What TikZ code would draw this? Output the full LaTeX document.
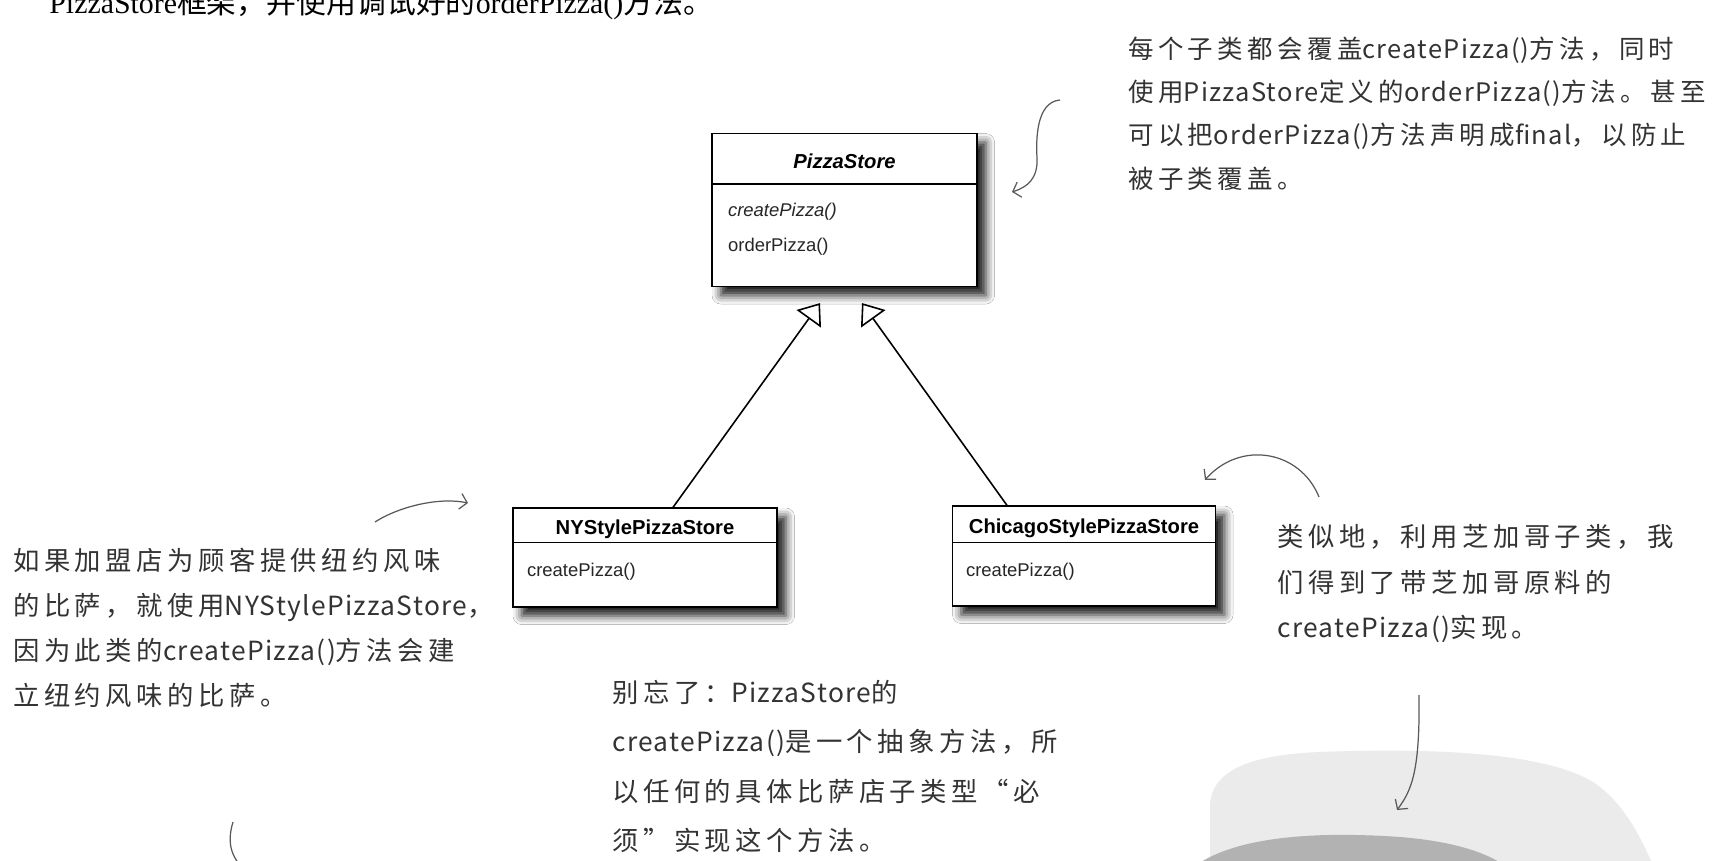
\documentclass[tikz,border=0pt]{standalone}
\usepackage{fontspec}
\setmainfont{Liberation Sans}
\newfontfamily\serifa{Liberation Serif}
\newfontfamily\cjk{Noto Sans CJK SC}
\newfontfamily\mao[LetterSpace=17]{Noto Sans CJK SC}
\newfontfamily\maolat[LetterSpace=5]{Noto Sans CJK SC}
\newcommand{\la}[1]{{\maolat #1}}
\usepackage{tikz}
\usetikzlibrary{positioning,arrows.meta,shadows.blur}

\begin{document}
\begin{tikzpicture}[
  x=0.02cm, y=-0.02cm,
  font=\fontsize{10.5}{12.6}\selectfont,
  classe/.style={draw, line width=0.7pt, fill=white, inner sep=0pt,
                 blur shadow={shadow xshift=5pt, shadow yshift=-5pt,
                              shadow blur radius=5pt, shadow opacity=90}},
  nome/.style={font=\fontsize{11.5}{13.8}\selectfont\bfseries, inner sep=1pt},
  metodo/.style={anchor=west, inner sep=1pt, text=black!85},
  nota/.style={align=left, inner sep=0pt, anchor=north west, text=black!80},
  heranca/.style={-{Triangle[open, length=11pt, width=17pt]}, line width=0.9pt},
  rabisco/.style={-{Straight Barb[length=4pt, width=9pt]}, line width=0.7pt, draw=black!65},
]
\useasboundingbox[fill=white] (0,0) rectangle (1717,861);

% ---- Texto cortado no topo ----------------------------------------------
\node[anchor=base west, inner sep=0pt, font=\fontsize{17}{19}\selectfont] (topo) at (49,14)
      {{\serifa PizzaStore}{\cjk 框架，并使用调试好的}{\serifa orderPizza()}{\cjk 方法。}};

% ---- Figura da pizza (canto) --------------------------------------------
\fill[black!8] (1210,870) -- (1210,805) .. controls (1212,770) and (1250,755) .. (1320,752)
      .. controls (1450,747) and (1560,755) .. (1600,787)
      .. controls (1625,807) and (1640,835) .. (1655,870) -- cycle;
\fill[black!30] (1190,870) .. controls (1225,840) and (1300,830) .. (1400,837)
      .. controls (1450,841) and (1490,852) .. (1510,870) -- cycle;

% ---- Classes --------------------------------------------------------------
\node[classe, minimum width=5.3cm, minimum height=3.06cm] (ps) at (844.5,210) {};
\node[nome] (psnome) at (844.5,161) {\textit{PizzaStore}};
\draw[line width=0.7pt] ([yshift=-1.02cm]ps.north west) -- ([yshift=-1.02cm]ps.north east);
\node[metodo] (psm1) at (726,212) {\textit{createPizza()}};
\node[metodo] (psm2) at (726,247) {orderPizza()};

\node[classe, minimum width=5.28cm, minimum height=1.98cm] (ny) at (645,557.5) {};
\node[nome] (nynome) at (645,529) {NYStylePizzaStore};
\draw[line width=0.7pt] ([yshift=-0.7cm]ny.north west) -- ([yshift=-0.7cm]ny.north east);
\node[metodo] (nym) at (525,572) {createPizza()};

\node[classe, minimum width=5.26cm, minimum height=2cm] (chi) at (1084,556) {};
\node[nome] (chinome) at (1084,528) {ChicagoStylePizzaStore};
\draw[line width=0.7pt] ([yshift=-0.74cm]chi.north west) -- ([yshift=-0.74cm]chi.north east);
\node[metodo] (chim) at (964,572) {createPizza()};

% ---- Heranca --------------------------------------------------------------
\draw[heranca] ([xshift=0.56cm]ny.north) -- ([xshift=-0.49cm, yshift=-0.32cm]ps.south);
\draw[heranca] ([xshift=-1.54cm]chi.north) -- ([xshift=0.35cm, yshift=-0.32cm]ps.south);

% ---- Notas manuscritas ----------------------------------------------------
\node[nota, font=\fontsize{14.5}{24.5}\selectfont\mao] (notatopo) at (1128,37)
      {每个子类都会覆盖\la{createPizza()}方法，同时\\使用\la{PizzaStore}定义的\la{orderPizza()}方法。甚至\\可以把\la{orderPizza()}方法声明成\la{final}，以防止\\被子类覆盖。};
\node[nota, font=\fontsize{15}{25.5}\selectfont\mao] (notany) at (13,548)
      {如果加盟店为顾客提供纽约风味\\的比萨，就使用\la{NYStylePizzaStore}，\\因为此类的\la{createPizza()}方法会建\\立纽约风味的比萨。};
\node[nota, font=\fontsize{15}{28}\selectfont\mao] (notameio) at (612,680)
      {别忘了：\la{PizzaStore}的\\\la{createPizza()}是一个抽象方法，所\\以任何的具体比萨店子类型“必\\须”实现这个方法。};
\node[nota, font=\fontsize{15}{26}\selectfont\mao] (notachi) at (1277,524)
      {类似地，利用芝加哥子类，我\\们得到了带芝加哥原料的\\\la{createPizza()}实现。};

% ---- Setas a mao ----------------------------------------------------------
\coordinate (r1a) at (1060,100);
\coordinate (r1b) at (1012,192);
\draw[rabisco] (r1a) .. controls (1036,102) and (1036,140) .. (1037,158)
      .. controls (1038,178) and (1028,187) .. (r1b);
\coordinate (r2a) at (375,522);
\coordinate (r2b) at (468,503);
\draw[rabisco] (r2a) .. controls (400,506) and (440,497) .. (r2b);
\coordinate (r3a) at (1319,497);
\coordinate (r3b) at (1205,480);
\draw[rabisco] (r3a) .. controls (1300,450) and (1240,440) .. (r3b);
\coordinate (r4a) at (1419,695);
\coordinate (r4b) at (1397,810);
\draw[rabisco] (r4a) .. controls (1420,770) and (1412,790) .. (r4b);
\coordinate (r5a) at (233,822);
\draw[line width=0.7pt, draw=black!65] (r5a) .. controls (226,845) and (232,860) .. (250,875);

\end{tikzpicture}
\end{document}
